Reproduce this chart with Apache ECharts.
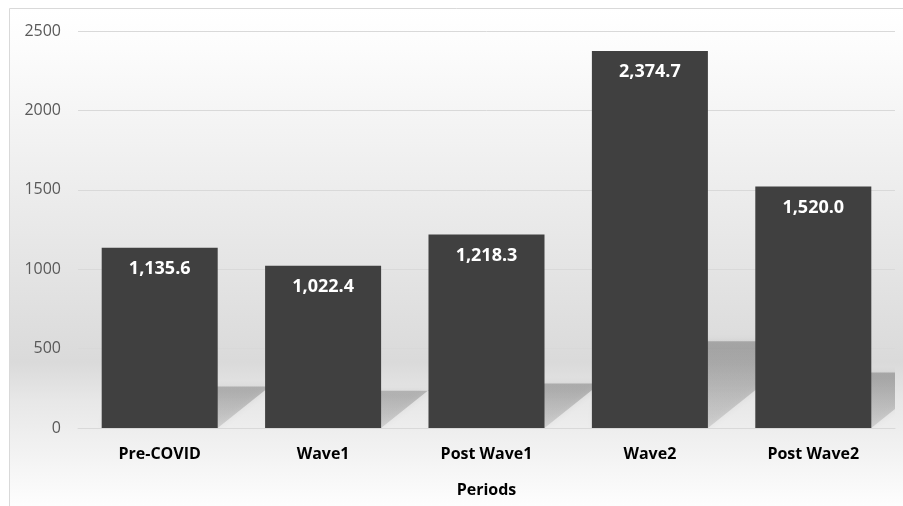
<!DOCTYPE html>
<html>
<head>
<meta charset="utf-8">
<script src="https://cdn.jsdelivr.net/npm/echarts@6/dist/echarts.min.js"></script>
<style>
  html, body { margin: 0; padding: 0; background: #fff; }
  #chart { width: 903px; height: 506px; }
</style>
</head>
<body>
<div id="chart"></div>
<script>
// data
const periods = ['Pre-COVID', 'Wave1', 'Post Wave1', 'Wave2', 'Post Wave2']
const values = [1135.6, 1022.4, 1218.3, 2374.7, 1520.0]
const yTicks = [0, 500, 1000, 1500, 2000, 2500]

const chart = echarts.init(document.getElementById('chart'))

// slanted "perspective" shadow behind each bar, drawn from the bar's own value
function renderShadow(params, api) {
  const idx = api.value(0)
  const val = api.value(1)
  const base = api.coord([idx, 0])
  const top = api.coord([idx, val])
  const bw = api.size([1, 0])[0] * 0.71
  const xL = base[0] - bw / 2
  const xR = base[0] + bw / 2
  const h = (base[1] - top[1]) * 0.23
  const yTop = base[1] - h
  const dx = 62
  const points = [
    [xL, base[1]],
    [xR, base[1]],
    [xR + dx, base[1] - dx * 0.8],
    [xR + dx, yTop],
    [xL + 10, yTop]
  ]
  return {
    type: 'polygon',
    shape: { points: points },
    style: {
      fill: new echarts.graphic.LinearGradient(0, 0, 0, 1, [
        { offset: 0, color: 'rgba(110,110,110,0.45)' },
        { offset: 1, color: 'rgba(110,110,110,0.2)' }
      ]),
      shadowBlur: 6,
      shadowColor: 'rgba(120,120,120,0.35)'
    }
  }
}

const option = {
  animation: false,
  graphic: [{
    type: 'rect',
    z: -100,
    silent: true,
    shape: { x: 9.5, y: 8.5, width: 900, height: 505 },
    style: {
      fill: new echarts.graphic.LinearGradient(0, 0, 0, 1, [
        { offset: 0, color: '#ffffff' },
        { offset: 0.08, color: '#fcfcfc' },
        { offset: 0.7, color: '#dadada' },
        { offset: 0.78, color: '#e8e8e8' },
        { offset: 1, color: '#ffffff' }
      ]),
      stroke: '#d9d9d9',
      lineWidth: 1
    }
  }],
  grid: { left: 78, right: 8, top: 31, bottom: 78 },
  xAxis: {
    type: 'category',
    data: periods,
    name: 'Periods',
    nameLocation: 'middle',
    nameGap: 54,
    nameTextStyle: { fontFamily: 'Open Sans', fontWeight: 'bold', fontSize: 16, color: '#000' },
    axisLine: { lineStyle: { color: '#d9d9d9', width: 1 } },
    axisTick: { show: false },
    axisLabel: { fontFamily: 'Open Sans', fontWeight: 'bold', fontSize: 16, color: '#000', margin: 18 }
  },
  yAxis: {
    type: 'value',
    min: yTicks[0],
    max: yTicks[yTicks.length - 1],
    interval: 500,
    axisLine: { show: false },
    axisTick: { show: false },
    axisLabel: { fontFamily: 'Open Sans', fontSize: 16, color: '#595959', margin: 17, formatter: v => String(v) },
    splitLine: { lineStyle: { color: '#d9d9d9', width: 1 } }
  },
  series: [
    {
      type: 'custom',
      z: 1,
      clip: true,
      silent: true,
      renderItem: renderShadow,
      data: values.map((v, i) => [i, v])
    },
    {
      type: 'bar',
      z: 3,
      data: values,
      barWidth: '71%',
      itemStyle: { color: '#404040' },
      label: {
        show: true,
        position: 'insideTop',
        distance: 12,
        fontFamily: 'Open Sans',
        fontWeight: 'bold',
        fontSize: 18,
        color: '#ffffff',
        formatter: p => p.value.toLocaleString('en-US', { minimumFractionDigits: 1, maximumFractionDigits: 1 })
      }
    }
  ]
}

chart.setOption(option)
</script>
</body>
</html>
